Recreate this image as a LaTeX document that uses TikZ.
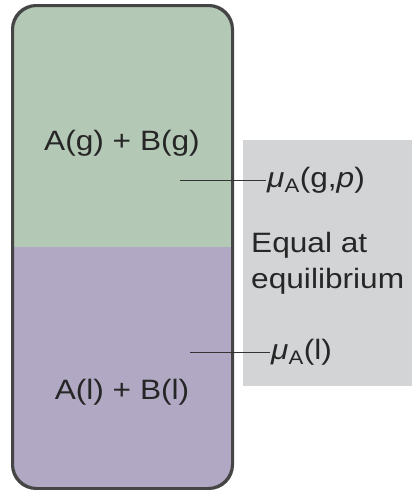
\documentclass[tikz,border=0pt]{standalone}
\usepackage{fontspec}
\setmainfont[FakeStretch=1.13]{Liberation Sans}
\usetikzlibrary{positioning,calc}
\definecolor{GasFill}{HTML}{B3C9B5}
\definecolor{LiqFill}{HTML}{B1A9C4}
\definecolor{PanelFill}{HTML}{D3D4D6}
\definecolor{EdgeGrey}{HTML}{454545}

\begin{document}
\begin{tikzpicture}[
						x=1pt, y=-1pt,
						vessel/.style={draw=EdgeGrey, line width=2pt, rounded corners=24pt, fill=GasFill,
							minimum width=219pt, minimum height=482pt, inner sep=0pt},
						phase/.style={font=\fontsize{28}{32}\selectfont, text=black!85},
						lbl/.style={font=\fontsize{28}{32}\selectfont, text=black!85, anchor=west, inner sep=1pt},
						lead/.style={draw=black!80, line width=1pt}
					]
						\useasboundingbox (0,0) rectangle (413,490);

						\node[fill=PanelFill, minimum width=169pt, minimum height=246pt, inner sep=0pt,
							anchor=north west] (panel) at (243,140) {};

						\node[vessel, path picture={
								\fill[LiqFill, sharp corners] (path picture bounding box.west) rectangle (path picture bounding box.south east);
							}] (tube) at (122.5,247) {};
						% redraw the edge on top of the liquid fill
						\draw[EdgeGrey, line width=2pt, rounded corners=24pt] (tube.north west) rectangle (tube.south east);

						\node[phase] (gas) at (122,143) {A(g) + B(g)};
						\node[phase] (liq) at (122,392) {A(l) + B(l)};

						\coordinate (gaspt) at (180,180);
						\coordinate (liqpt) at (190,352);

						\node[lbl] (muG) at (266,180) {{\itshape μ}\textsubscript{A}(g,{\itshape p})};
						\node[lbl] (muL) at (270,352) {{\itshape μ}\textsubscript{A}(l)};
						\node[lbl, align=left, anchor=north west, font=\fontsize{28}{36}\selectfont] (eq) at (250,231)
							{Equal at\\equilibrium};

						\draw[lead] (gaspt) -- (muG.west);
						\draw[lead] (liqpt) -- (muL.west);
					\end{tikzpicture}
\end{document}
